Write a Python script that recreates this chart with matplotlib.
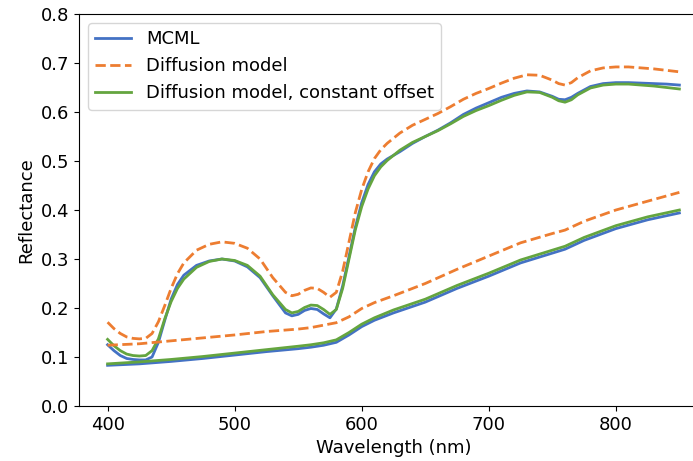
import matplotlib
matplotlib.use("Agg")
import matplotlib.pyplot as plt
import numpy as np

# wavelength grid for the curves with absorption features
wl_hi = [400, 405, 410, 415, 420, 425, 430, 435, 440, 445, 450, 455, 460, 470,
         480, 490, 500, 510, 520, 530, 540, 545, 550, 555, 560, 565, 570, 575,
         580, 585, 590, 595, 600, 605, 610, 615, 620, 630, 640, 650, 660, 670,
         680, 690, 700, 710, 720, 730, 740, 750, 755, 760, 765, 770, 780, 790,
         800, 810, 820, 830, 840, 850]

mcml_hi = [0.125, 0.113, 0.103, 0.097, 0.095, 0.094, 0.094, 0.100, 0.130, 0.175,
           0.218, 0.248, 0.267, 0.287, 0.296, 0.300, 0.296, 0.284, 0.262, 0.225,
           0.190, 0.184, 0.187, 0.195, 0.199, 0.197, 0.188, 0.180, 0.198, 0.245,
           0.305, 0.365, 0.415, 0.452, 0.478, 0.494, 0.504, 0.519, 0.536, 0.550,
           0.563, 0.578, 0.595, 0.608, 0.619, 0.630, 0.638, 0.643, 0.641, 0.632,
           0.626, 0.625, 0.630, 0.638, 0.652, 0.658, 0.660, 0.660, 0.659, 0.658,
           0.657, 0.655]

diff_hi = [0.171, 0.158, 0.148, 0.141, 0.138, 0.137, 0.138, 0.148, 0.172, 0.205,
           0.240, 0.270, 0.292, 0.318, 0.330, 0.335, 0.332, 0.322, 0.300, 0.262,
           0.232, 0.225, 0.228, 0.236, 0.241, 0.240, 0.232, 0.222, 0.232, 0.275,
           0.335, 0.395, 0.442, 0.478, 0.505, 0.523, 0.536, 0.557, 0.573, 0.585,
           0.597, 0.611, 0.626, 0.638, 0.648, 0.659, 0.669, 0.676, 0.675, 0.665,
           0.658, 0.655, 0.660, 0.670, 0.684, 0.690, 0.692, 0.692, 0.690, 0.688,
           0.685, 0.682]

offset_hi = [0.136, 0.123, 0.113, 0.106, 0.103, 0.102, 0.103, 0.113, 0.137, 0.178,
             0.213, 0.240, 0.259, 0.283, 0.295, 0.300, 0.297, 0.287, 0.265, 0.227,
             0.197, 0.190, 0.193, 0.201, 0.206, 0.205, 0.197, 0.187, 0.197, 0.240,
             0.300, 0.360, 0.407, 0.443, 0.470, 0.488, 0.501, 0.522, 0.538, 0.550,
             0.562, 0.576, 0.591, 0.603, 0.613, 0.624, 0.634, 0.641, 0.640, 0.630,
             0.623, 0.620, 0.625, 0.635, 0.649, 0.655, 0.657, 0.657, 0.655, 0.653,
             0.650, 0.647]

# wavelength grid for the smooth curves
wl_lo = [400, 425, 450, 475, 500, 525, 550, 560, 570, 580, 590, 600, 610, 625,
         650, 675, 700, 725, 750, 760, 775, 800, 825, 850]

mcml_lo = [0.083, 0.086, 0.091, 0.097, 0.104, 0.111, 0.117, 0.120, 0.124, 0.130,
           0.145, 0.162, 0.175, 0.190, 0.212, 0.240, 0.265, 0.292, 0.312, 0.320,
           0.338, 0.362, 0.380, 0.394]

diff_lo = [0.124, 0.127, 0.133, 0.139, 0.145, 0.152, 0.157, 0.160, 0.165, 0.170,
           0.182, 0.199, 0.211, 0.225, 0.250, 0.279, 0.306, 0.333, 0.352, 0.359,
           0.377, 0.400, 0.418, 0.436]

offset_lo = [0.086, 0.090, 0.095, 0.101, 0.108, 0.115, 0.122, 0.125, 0.129, 0.135,
             0.150, 0.167, 0.180, 0.196, 0.218, 0.246, 0.271, 0.298, 0.318, 0.326,
             0.344, 0.368, 0.386, 0.400]

blue = "#4472C4"
orange = "#ED7D31"
green = "#64A53F"

plt.rcParams["font.size"] = 13

fig = plt.figure(figsize=(6.93, 4.61), dpi=100)
ax = fig.add_axes([0.114, 0.1193, 0.9076, 0.8503])

ax.plot(wl_hi, mcml_hi, color=blue, lw=2, label="MCML")
ax.plot(wl_hi, diff_hi, color=orange, lw=2, ls="--", label="Diffusion model")
ax.plot(wl_hi, offset_hi, color=green, lw=2, label="Diffusion model, constant offset")
ax.plot(wl_lo, mcml_lo, color=blue, lw=2)
ax.plot(wl_lo, diff_lo, color=orange, lw=2, ls="--")
ax.plot(wl_lo, offset_lo, color=green, lw=2)

ax.set_xlim(377.5, 872.5)
ax.set_ylim(0, 0.8)
ax.set_xticks([400, 500, 600, 700, 800])
ax.set_xlabel("Wavelength (nm)")
ax.set_ylabel("Reflectance")
ax.legend(loc="upper left")

fig.savefig("out.png", dpi=100)
